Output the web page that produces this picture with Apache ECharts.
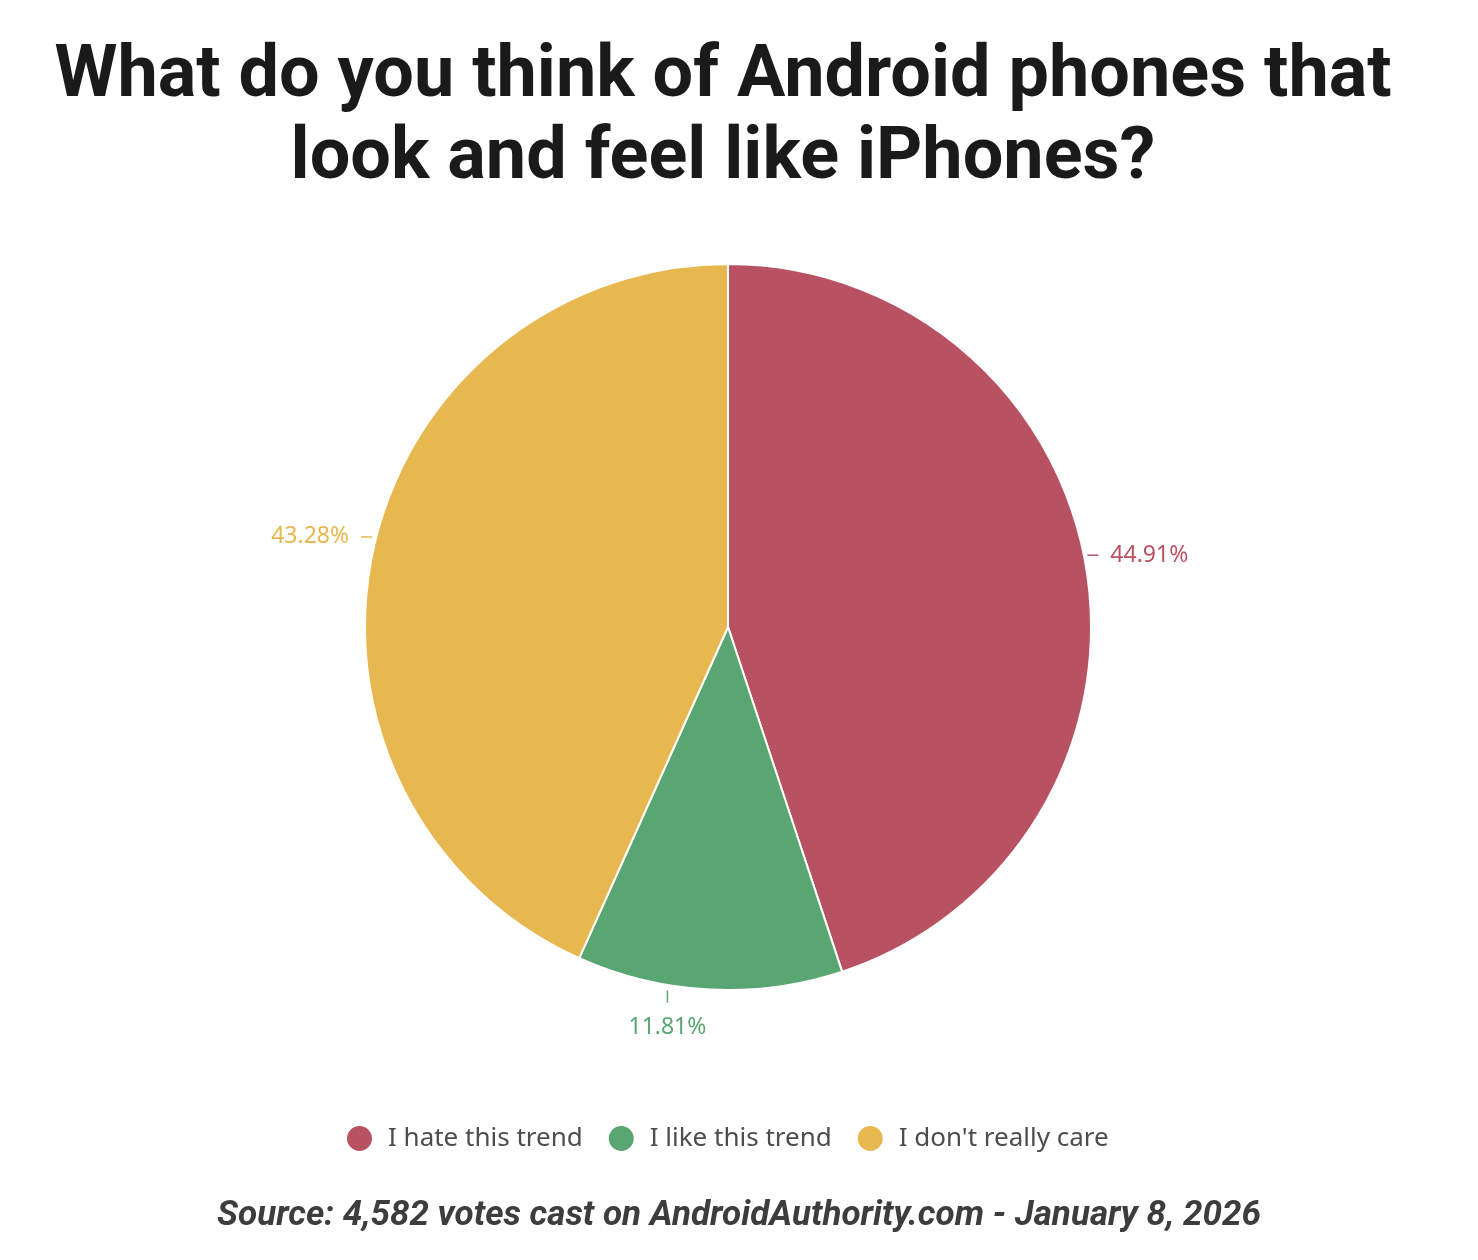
<!DOCTYPE html>
<html><head><meta charset="utf-8">
<script src="https://cdn.jsdelivr.net/npm/echarts@6/dist/echarts.min.js"></script>
<style>html,body{margin:0;padding:0;background:#fff}#c{width:1478px;height:1260px}</style>
</head><body><div id="c"></div>
<script>
const titleLines = ["What do you think of Android phones that", "look and feel like iPhones?"];
const categories = ["I hate this trend", "I like this trend", "I don't really care"];
const values = [44.91, 11.81, 43.28];
const colors = ["#B85262", "#5AA673", "#E8B850"];
const sourceText = "Source: 4,582 votes cast on AndroidAuthority.com - January 8, 2026";

const chart = echarts.init(document.getElementById('c'));
chart.setOption({
  backgroundColor: '#fff',
  title: [{
    text: sourceText,
    left: 'center', top: 1194,
    textStyle: {fontFamily: 'Roboto', fontStyle: 'italic', fontWeight: 'bold', fontSize: 35, color: '#3d3d3d'}
  }],
  graphic: [{
    type: 'text', x: 723, y: 37,
    style: {
      text: titleLines.join('\n'),
      textAlign: 'center', textVerticalAlign: 'top',
      fontFamily: 'Roboto', fontWeight: 'bold', fontSize: 72, lineHeight: 82,
      fill: '#1a1a1a'
    }
  }],
  legend: {
    bottom: 102, left: 340,
    icon: 'circle', itemWidth: 27, itemHeight: 27, itemGap: 24,
    textStyle: {fontFamily: 'Noto Sans', fontSize: 26, color: '#4d4d4d', padding: [0, 0, 0, 10]},
    data: categories
  },
  series: [{
    type: 'pie',
    center: [728, 627], radius: [0, 363],
    startAngle: 90, clockwise: true,
    avoidLabelOverlap: false,
    itemStyle: {borderColor: '#fff', borderWidth: 2},
    label: {
      show: true, position: 'outside',
      formatter: p => p.value.toFixed(2) + '%',
      fontFamily: 'Noto Sans', fontSize: 23,
      distanceToLabelLine: 8
    },
    labelLine: {show: true, length: 8, length2: 0, lineStyle: {width: 1.5}},
    labelLayout: function (p) {
      const pts = p.labelLinePoints;
      if (!pts) return {};
      const x0 = pts[0][0], y0 = pts[0][1];
      if (p.dataIndex === 1) {
        const x = x0 - 42;
        return {
          x: x, y: y0 + 38, align: 'center', verticalAlign: 'middle',
          labelLinePoints: [[x, y0 + 1], [x, y0 + 13], [x, y0 + 13]]
        };
      }
      const s = x0 > 728 ? 1 : -1;
      const y = y0 - 14;
      return {
        x: x0 + s * 24, y: y, align: s > 0 ? 'left' : 'right', verticalAlign: 'middle',
        labelLinePoints: [[x0 + s * 1, y], [x0 + s * 12, y], [x0 + s * 12, y]]
      };
    },
    emphasis: {disabled: true},
    data: categories.map((c, i) => ({
      name: c, value: values[i],
      itemStyle: {color: colors[i]},
      label: {color: colors[i]},
      labelLine: {lineStyle: {color: colors[i]}}
    }))
  }]
});
</script></body></html>
